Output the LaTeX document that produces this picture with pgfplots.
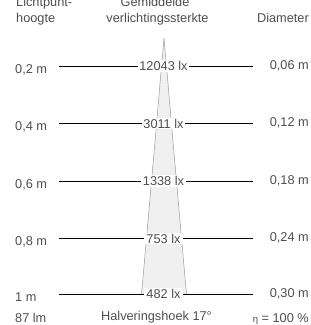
\documentclass[border=0pt]{standalone}
\usepackage{pgfplots}
\pgfplotsset{compat=1.18}
\usepackage{fontspec}
\setmainfont{Liberation Sans}
\definecolor{txt}{HTML}{4E4E4E}
\definecolor{conefill}{HTML}{F0F0F0}
\definecolor{coneedge}{HTML}{9A9A9A}
\tikzset{lbl/.style={font=\fontsize{12.8}{15}\selectfont, text=txt, inner sep=0pt},
  lx/.style={lbl, anchor=base, fill=white, inner xsep=1.5bp, inner ysep=1bp}}
\begin{document}
\begin{tikzpicture}[font=\fontsize{12.8}{15}\selectfont]
\begin{axis}[width=311bp, height=325bp, scale only axis, hide axis,
  xmin=0, xmax=311, ymin=0, ymax=325, y dir=reverse, clip=false]
% light cone
\addplot[draw=coneedge, line width=0.5bp, fill=conefill] coordinates {
  (164,38) (165,50) (166.5,66) (171.4,123.5) (176.5,181) (181.5,238.5) (186.5,294)
  (141.5,294) (146.5,238.5) (151.5,181) (156.6,123.5) (161.5,66) (163,50) (164,38)} -- cycle;
% height lines
\addplot[black, line width=0.75bp] coordinates {(59,66) (253,66)};
\addplot[black, line width=0.75bp] coordinates {(59,123.5) (253,123.5)};
\addplot[black, line width=0.75bp] coordinates {(59,181) (253,181)};
\addplot[black, line width=0.75bp] coordinates {(59,238.5) (253,238.5)};
\addplot[black, line width=0.75bp] coordinates {(59,294) (253,294)};
% headers
\node[lbl, anchor=base west] at (axis cs:16,7) {Lichtpunt-};
\node[lbl, anchor=base west] at (axis cs:16,22.5) {hoogte};
\node[lbl, anchor=base] at (axis cs:155,7) {Gemiddelde};
\node[lbl, anchor=base] at (axis cs:157.5,22.5) {verlichtingssterkte};
\node[lbl, anchor=base east] at (axis cs:309,22.5) {Diameter};
% left labels
\node[lbl, anchor=base west] at (axis cs:15,73) {0,2 m};
\node[lbl, anchor=base west] at (axis cs:15,130.5) {0,4 m};
\node[lbl, anchor=base west] at (axis cs:15,188) {0,6 m};
\node[lbl, anchor=base west] at (axis cs:15,245.5) {0,8 m};
\node[lbl, anchor=base west] at (axis cs:15,301) {1 m};
% lux labels
\node[lx] at (axis cs:163.5,70.7) {12043 lx};
\node[lx] at (axis cs:163.5,128.2) {3011 lx};
\node[lx] at (axis cs:163.5,185.7) {1338 lx};
\node[lx, inner xsep=2.5bp] at (axis cs:163.5,243.2) {753 lx};
\node[lx, inner xsep=2.5bp] at (axis cs:163.5,298.7) {482 lx};
% right labels
\node[lbl, anchor=base east] at (axis cs:309,69) {0,06 m};
\node[lbl, anchor=base east] at (axis cs:309,126.5) {0,12 m};
\node[lbl, anchor=base east] at (axis cs:309,184) {0,18 m};
\node[lbl, anchor=base east] at (axis cs:309,241.5) {0,24 m};
\node[lbl, anchor=base east] at (axis cs:309,297.5) {0,30 m};
% bottom row
\node[lbl, anchor=base west] at (axis cs:15,322.5) {87 lm};
\node[lbl, anchor=base] at (axis cs:156.5,320.5) {Halveringshoek 17°};
\node[lbl, anchor=base east] at (axis cs:309,322.5) {{\fontsize{9.5}{11}\selectfont η} = 100 \%};
\end{axis}
\pgfresetboundingbox
\path[use as bounding box] (current axis.south west) rectangle (current axis.north east);
\end{tikzpicture}
\end{document}
